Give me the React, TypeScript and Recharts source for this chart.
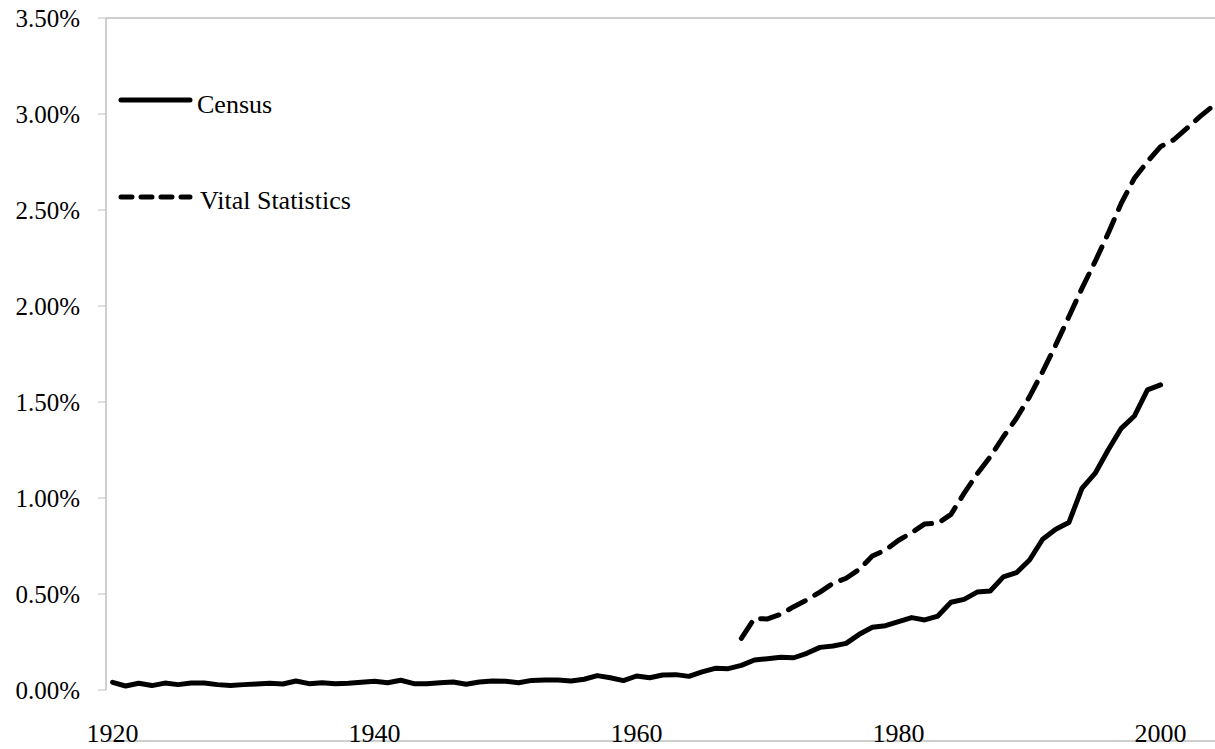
import React from "react";
import { LineChart, Line, XAxis, YAxis, ReferenceLine } from "recharts";

// years on the category axis
const firstYear = 1920;
const lastYear = 2004;

// Census share, 1920-2000 (percent)
const census = [
  0.04, 0.021, 0.035, 0.023, 0.036, 0.028, 0.036, 0.036, 0.028, 0.024,
  0.028, 0.031, 0.035, 0.031, 0.047, 0.033, 0.038, 0.033, 0.035, 0.04,
  0.045, 0.038, 0.051, 0.033, 0.033, 0.038, 0.042, 0.03, 0.042, 0.047,
  0.045, 0.038, 0.05, 0.052, 0.052, 0.047, 0.056, 0.075, 0.064, 0.049,
  0.073, 0.064, 0.078, 0.08, 0.071, 0.094, 0.113, 0.111, 0.128, 0.156,
  0.163, 0.17, 0.168, 0.191, 0.222, 0.229, 0.243, 0.29, 0.327, 0.335,
  0.356, 0.377, 0.365, 0.385, 0.457, 0.472, 0.51, 0.516, 0.589, 0.611,
  0.677, 0.785, 0.837, 0.872, 1.05, 1.128, 1.25, 1.363, 1.427, 1.563,
  1.589,
];

// Vital Statistics share, 1968-2004 (percent)
const vitalStart = 1968;
const vital = [
  0.269, 0.373, 0.37, 0.394, 0.434, 0.469, 0.51, 0.556, 0.582, 0.628,
  0.698, 0.729, 0.78, 0.819, 0.865, 0.868, 0.915, 1.024, 1.125, 1.215,
  1.319, 1.415, 1.528, 1.658, 1.797, 1.944, 2.092, 2.231, 2.378, 2.535,
  2.665, 2.752, 2.83, 2.865, 2.925, 2.986, 3.042,
];

const xLabels = [1920, 1940, 1960, 1980, 2000];
const yTicks = [0, 0.5, 1, 1.5, 2, 2.5, 3, 3.5];
const seriesNames = ["Census", "Vital Statistics"];

const data = [];
for (let y = firstYear; y <= lastYear; y++) {
  const ci = y - firstYear;
  const vi = y - vitalStart;
  data.push({
    year: y,
    census: ci < census.length ? census[ci] : null,
    vital: vi >= 0 && vi < vital.length ? vital[vi] : null,
  });
}

// category boundaries for the small tick marks
const boundaryTicks = [];
for (let y = firstYear; y <= lastYear + 1; y++) boundaryTicks.push(y - 0.5);

const font = "'Liberation Serif', 'Times New Roman', serif";
const gray = "#bfbfbf";

export default function App() {
  return (
    <div
      style={{
        position: "absolute",
        left: 8,
        top: 0,
        width: 1207,
        height: 749,
        overflow: "hidden",
        fontFamily: font,
      }}
    >
      <LineChart
        width={1220}
        height={749}
        data={data}
        margin={{ top: 18, right: 8.5, left: 0, bottom: 0 }}
      >
        <XAxis
          xAxisId="marks"
          dataKey="year"
          type="number"
          domain={[firstYear - 0.5, lastYear + 0.5]}
          ticks={boundaryTicks}
          interval={0}
          tick={false}
          tickSize={6}
          height={8}
          axisLine={{ stroke: gray, strokeWidth: 1.5 }}
          tickLine={{ stroke: gray }}
        />
        <XAxis
          xAxisId="labels"
          dataKey="year"
          type="number"
          domain={[firstYear - 0.5, lastYear + 0.5]}
          ticks={xLabels}
          interval={0}
          height={51}
          axisLine={false}
          tickLine={false}
          tickSize={0}
          tickMargin={34}
          tick={{ fill: "#000", fontSize: 26, fontFamily: font }}
        />
        <YAxis
          domain={[0, 3.5]}
          ticks={yTicks}
          interval={0}
          width={98}
          tickSize={8}
          tickMargin={18}
          tickFormatter={(v: number) => v.toFixed(2) + "%"}
          axisLine={{ stroke: gray, strokeWidth: 1.5 }}
          tickLine={{ stroke: gray }}
          tick={{ fill: "#000", fontSize: 25, fontFamily: font }}
        />
        <ReferenceLine xAxisId="labels" y={3.5} stroke={gray} strokeWidth={1.5} />
        <Line
          xAxisId="labels"
          dataKey="census"
          stroke="#000"
          strokeWidth={5}
          strokeLinejoin="round"
          strokeLinecap="round"
          dot={false}
          activeDot={false}
          isAnimationActive={false}
        />
        <Line
          xAxisId="labels"
          dataKey="vital"
          stroke="#000"
          strokeWidth={5}
          strokeDasharray="19 11"
          strokeLinejoin="round"
          strokeLinecap="round"
          dot={false}
          activeDot={false}
          isAnimationActive={false}
        />
      </LineChart>
      <svg
        width={420}
        height={240}
        style={{ position: "absolute", left: 0, top: 0, pointerEvents: "none" }}
      >
        <line x1={113} y1={100} x2={182} y2={100} stroke="#000" strokeWidth={5} strokeLinecap="round" />
        <text x={189} y={113} fontSize={26} fontFamily={font} fill="#000">
          {seriesNames[0]}
        </text>
        <line
          x1={113}
          y1={197}
          x2={182}
          y2={197}
          stroke="#000"
          strokeWidth={5}
          strokeDasharray="11 9"
          strokeLinecap="round"
        />
        <text x={192} y={209} fontSize={26} fontFamily={font} fill="#000">
          {seriesNames[1]}
        </text>
      </svg>
    </div>
  );
}
